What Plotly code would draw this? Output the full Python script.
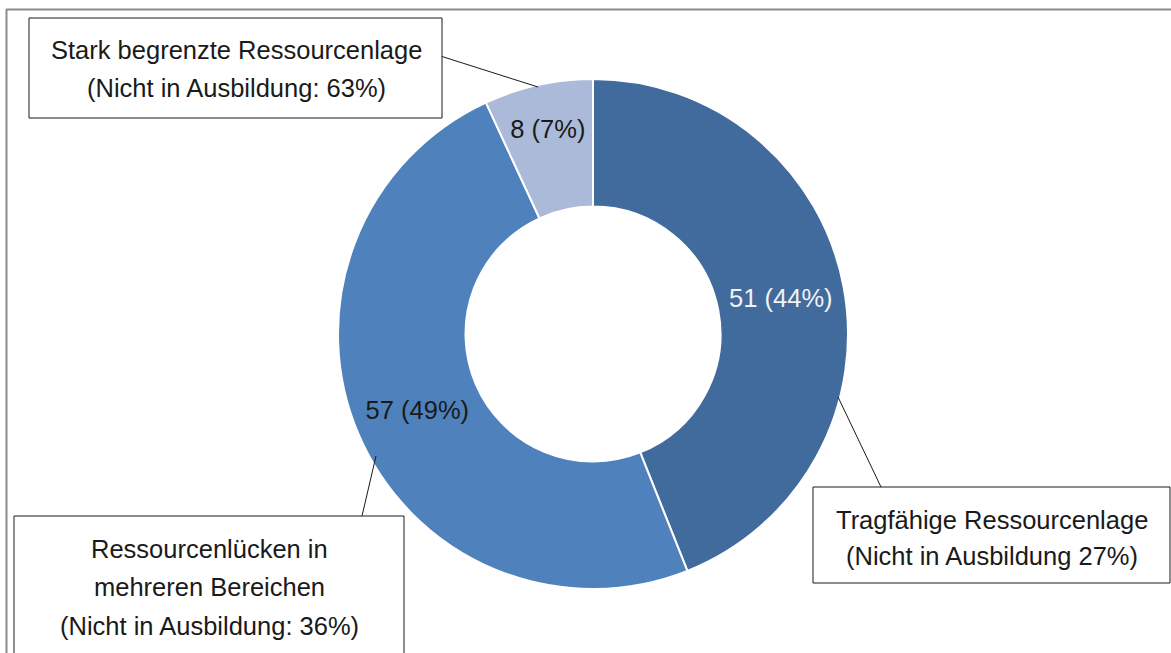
import plotly.graph_objects as go

# ---- data ----
categories = ["Tragfähige Ressourcenlage",
              "Ressourcenlücken in mehreren Bereichen",
              "Stark begrenzte Ressourcenlage"]
values = [51, 57, 8]
not_in_training = ["27%", "36%", "63%"]
slice_colors = ["#416B9C", "#4F81BD", "#AABAD8"]
label_colors = ["#F2F2F2", "#1A1A1A", "#1A1A1A"]

box_lines = [
    ["Tragfähige Ressourcenlage", "(Nicht in Ausbildung 27%)"],
    ["Ressourcenlücken in", "mehreren Bereichen", "(Nicht in Ausbildung: 36%)"],
    ["Stark begrenzte Ressourcenlage", "(Nicht in Ausbildung: 63%)"],
]

W, H = 1171, 653
FONT = "Liberation Sans, Arial, sans-serif"
FS = 25.5


def px(x):
    return x / W


def py(y):
    return 1 - y / H


fig = go.Figure()
fig.add_trace(go.Pie(
    labels=categories,
    values=values,
    sort=False,
    direction="clockwise",
    rotation=0,
    hole=0.5,
    marker=dict(colors=slice_colors, line=dict(color="white", width=2)),
    texttemplate="%{value} (%{percent:.0%})",
    textposition="inside",
    insidetextorientation="horizontal",
    insidetextfont=dict(family=FONT, size=FS, color=label_colors),
    hoverinfo="label+value+percent",
    domain=dict(x=[px(338), px(848)], y=[py(589), py(79)]),
    showlegend=False,
))

shapes = []
# outer chart frame (top and left edges visible)
shapes.append(dict(type="line", xref="paper", yref="paper",
                   x0=px(6), x1=px(1180), y0=py(9.5), y1=py(9.5),
                   line=dict(color="#8C8C8C", width=2)))
shapes.append(dict(type="line", xref="paper", yref="paper",
                   x0=px(6.5), x1=px(6.5), y0=py(9), y1=py(660),
                   line=dict(color="#8C8C8C", width=2)))

# label boxes: (x0, y0, x1, y1) in pixels
boxes = [(813, 487, 1170, 583), (14, 516, 404, 700), (29, 18, 442, 118)]
for (x0, y0, x1, y1) in boxes:
    shapes.append(dict(type="rect", xref="paper", yref="paper",
                       x0=px(x0), x1=px(x1), y0=py(y1), y1=py(y0),
                       fillcolor="white", line=dict(color="#1A1A1A", width=1)))

# leader lines
leaders = [((838, 397), (881, 487)), ((376, 456), (362, 516)), ((442, 56.5), (538, 87))]
for (a, b) in leaders:
    shapes.append(dict(type="line", xref="paper", yref="paper",
                       x0=px(a[0]), y0=py(a[1]), x1=px(b[0]), y1=py(b[1]),
                       line=dict(color="#1A1A1A", width=1)))

annotations = []
line_pos = [
    (991.5, [520, 556]),
    (209, [549, 587, 626]),
    (236, [50, 88]),
]
for lines, (cx, ys) in zip(box_lines, line_pos):
    for t, yy in zip(lines, ys):
        annotations.append(dict(text=t, xref="paper", yref="paper",
                                x=px(cx), y=py(yy), xanchor="center", yanchor="middle",
                                showarrow=False,
                                font=dict(family=FONT, size=FS, color="#1A1A1A")))

fig.update_layout(
    width=W, height=H,
    margin=dict(l=0, r=0, t=0, b=0),
    paper_bgcolor="white",
    plot_bgcolor="white",
    shapes=shapes,
    annotations=annotations,
    showlegend=False,
)

fig.write_html("out.html",
               config={"displayModeBar": False},
               post_script="document.body.style.margin='0';document.body.style.overflow='hidden';")
